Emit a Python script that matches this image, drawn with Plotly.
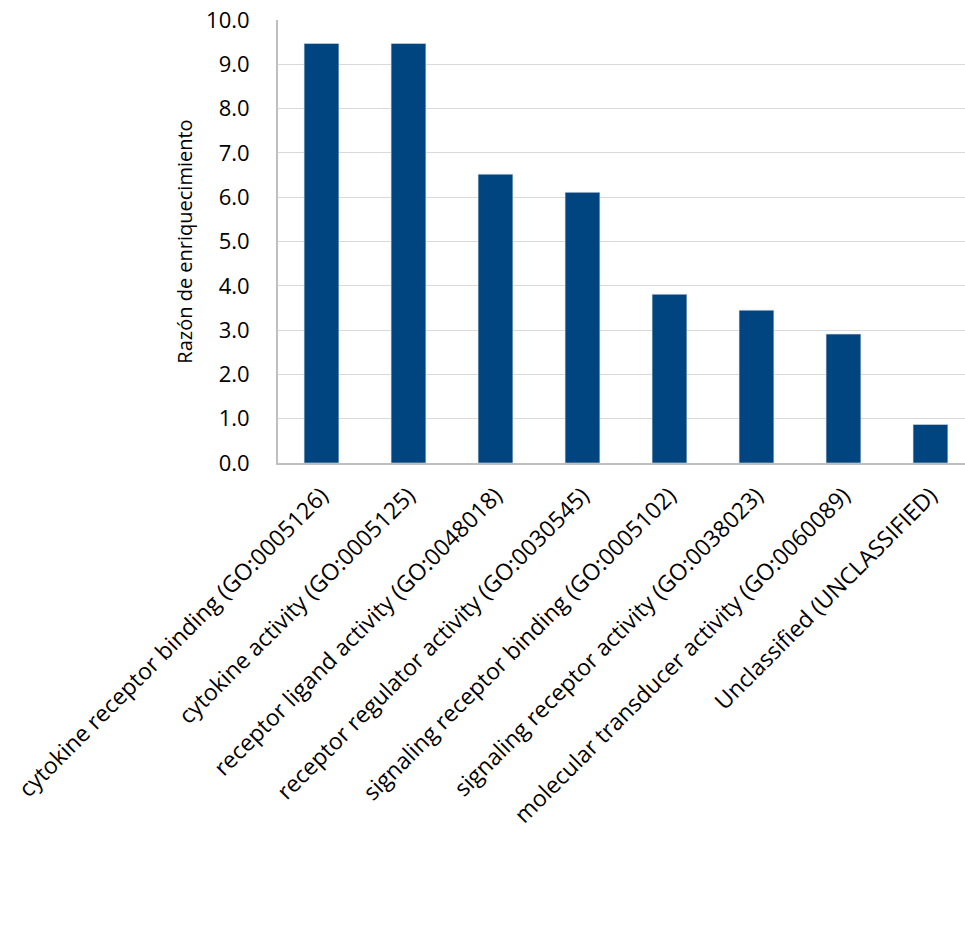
import plotly.graph_objects as go

categories = [
    "cytokine receptor binding (GO:0005126)",
    "cytokine activity (GO:0005125)",
    "receptor ligand activity (GO:0048018)",
    "receptor regulator activity (GO:0030545)",
    "signaling receptor binding (GO:0005102)",
    "signaling receptor activity (GO:0038023)",
    "molecular transducer activity (GO:0060089)",
    "Unclassified (UNCLASSIFIED)",
]
values = [9.47, 9.47, 6.52, 6.11, 3.81, 3.45, 2.91, 0.87]
y_ticks = [0, 1, 2, 3, 4, 5, 6, 7, 8, 9, 10]
y_ticktext = ["%.1f" % v for v in y_ticks]

xpos = list(range(len(categories)))

fig = go.Figure(
    go.Bar(
        x=xpos,
        y=values,
        marker=dict(color="#00457F", line=dict(color="#d6dfea", width=0.6)),
        width=0.4,
    )
)

font_family = "'Open Sans', sans-serif"

fig.update_layout(
    width=965,
    height=952,
    margin=dict(l=278, r=0, t=20, b=489),
    paper_bgcolor="white",
    plot_bgcolor="white",
    showlegend=False,
    font=dict(family=font_family, color="black"),
    xaxis=dict(
        range=[-0.5, 7.397],
        tickmode="array",
        tickvals=xpos,
        ticktext=categories,
        tickangle=-45,
        tickfont=dict(size=23, color="black"),
        showgrid=False,
        showline=True,
        linecolor="#BFBFBF",
        linewidth=2,
        ticks="outside",
        ticklen=8,
        tickcolor="rgba(0,0,0,0)",
        zeroline=False,
    ),
    yaxis=dict(
        range=[0, 10],
        tickmode="array",
        tickvals=y_ticks,
        ticktext=y_ticktext,
        tickfont=dict(size=22, color="black"),
        showgrid=True,
        gridcolor="#D9D9D9",
        gridwidth=1,
        showline=True,
        linecolor="#BFBFBF",
        linewidth=2,
        ticks="outside",
        ticklen=22,
        tickcolor="rgba(0,0,0,0)",
        zeroline=False,
        title=dict(text="Razón de enriquecimiento", font=dict(size=20, color="black"), standoff=8),
    ),
)

fig.write_html("out.html")
